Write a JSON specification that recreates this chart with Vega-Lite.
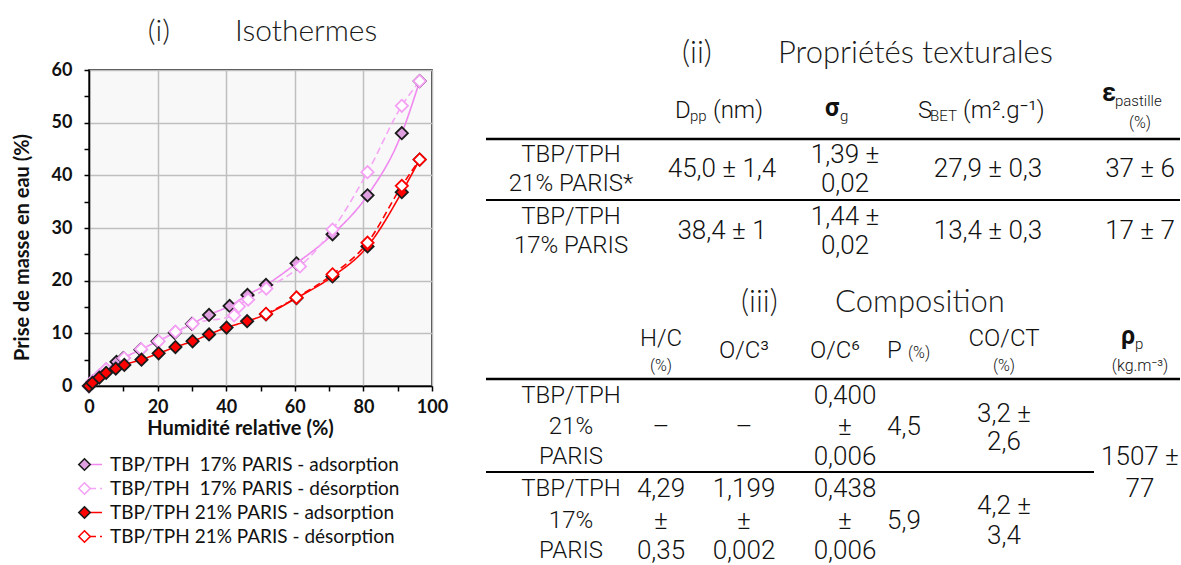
{
  "$schema": "https://vega.github.io/schema/vega-lite/v6.json",
  "background": "white",
  "padding": {"left": 11, "top": 16, "right": 0, "bottom": 0},
  "spacing": 20,
  "datasets": {
    "iso": [
      {"series": "TBP/TPH  17% PARIS - adsorption", "hr": 0, "m": 0},
      {"series": "TBP/TPH  17% PARIS - adsorption", "hr": 1, "m": 0.8},
      {"series": "TBP/TPH  17% PARIS - adsorption", "hr": 3, "m": 1.9},
      {"series": "TBP/TPH  17% PARIS - adsorption", "hr": 5, "m": 3.1},
      {"series": "TBP/TPH  17% PARIS - adsorption", "hr": 8, "m": 4.6},
      {"series": "TBP/TPH  17% PARIS - adsorption", "hr": 10, "m": 5.3},
      {"series": "TBP/TPH  17% PARIS - adsorption", "hr": 15, "m": 6.9},
      {"series": "TBP/TPH  17% PARIS - adsorption", "hr": 20, "m": 8.5},
      {"series": "TBP/TPH  17% PARIS - adsorption", "hr": 25, "m": 10.1},
      {"series": "TBP/TPH  17% PARIS - adsorption", "hr": 30, "m": 11.8},
      {"series": "TBP/TPH  17% PARIS - adsorption", "hr": 35, "m": 13.5},
      {"series": "TBP/TPH  17% PARIS - adsorption", "hr": 41, "m": 15.2},
      {"series": "TBP/TPH  17% PARIS - adsorption", "hr": 46.2, "m": 17.3},
      {"series": "TBP/TPH  17% PARIS - adsorption", "hr": 51.6, "m": 19.2},
      {"series": "TBP/TPH  17% PARIS - adsorption", "hr": 60.5, "m": 23.3},
      {"series": "TBP/TPH  17% PARIS - adsorption", "hr": 71, "m": 28.8},
      {"series": "TBP/TPH  17% PARIS - adsorption", "hr": 81.2, "m": 36.2},
      {"series": "TBP/TPH  17% PARIS - adsorption", "hr": 91.2, "m": 48},
      {"series": "TBP/TPH  17% PARIS - adsorption", "hr": 96.4, "m": 57.9},
      {"series": "TBP/TPH  17% PARIS - désorption", "hr": 96.4, "m": 57.9},
      {"series": "TBP/TPH  17% PARIS - désorption", "hr": 91.2, "m": 53.2},
      {"series": "TBP/TPH  17% PARIS - désorption", "hr": 81.2, "m": 40.6},
      {"series": "TBP/TPH  17% PARIS - désorption", "hr": 71, "m": 29.7},
      {"series": "TBP/TPH  17% PARIS - désorption", "hr": 61.5, "m": 22.7},
      {"series": "TBP/TPH  17% PARIS - désorption", "hr": 51.7, "m": 18.5},
      {"series": "TBP/TPH  17% PARIS - désorption", "hr": 46.4, "m": 16.4},
      {"series": "TBP/TPH  17% PARIS - désorption", "hr": 43.7, "m": 15.1},
      {"series": "TBP/TPH  17% PARIS - désorption", "hr": 42.3, "m": 13.4},
      {"series": "TBP/TPH  17% PARIS - désorption", "hr": 30.2, "m": 11.8},
      {"series": "TBP/TPH  17% PARIS - désorption", "hr": 25.2, "m": 10.3},
      {"series": "TBP/TPH  17% PARIS - désorption", "hr": 20.3, "m": 8.5},
      {"series": "TBP/TPH  17% PARIS - désorption", "hr": 15.2, "m": 7},
      {"series": "TBP/TPH  17% PARIS - désorption", "hr": 10.2, "m": 5.3},
      {"series": "TBP/TPH  17% PARIS - désorption", "hr": 5, "m": 3.2},
      {"series": "TBP/TPH  17% PARIS - désorption", "hr": 3, "m": 2},
      {"series": "TBP/TPH  17% PARIS - désorption", "hr": 1, "m": 0.9},
      {"series": "TBP/TPH  17% PARIS - désorption", "hr": 0, "m": 0},
      {"series": "TBP/TPH 21% PARIS - adsorption", "hr": 0, "m": 0},
      {"series": "TBP/TPH 21% PARIS - adsorption", "hr": 1, "m": 0.6},
      {"series": "TBP/TPH 21% PARIS - adsorption", "hr": 3, "m": 1.6},
      {"series": "TBP/TPH 21% PARIS - adsorption", "hr": 5, "m": 2.5},
      {"series": "TBP/TPH 21% PARIS - adsorption", "hr": 7.8, "m": 3.3},
      {"series": "TBP/TPH 21% PARIS - adsorption", "hr": 10.3, "m": 4},
      {"series": "TBP/TPH 21% PARIS - adsorption", "hr": 15.3, "m": 5},
      {"series": "TBP/TPH 21% PARIS - adsorption", "hr": 20.3, "m": 6.2},
      {"series": "TBP/TPH 21% PARIS - adsorption", "hr": 25.2, "m": 7.4},
      {"series": "TBP/TPH 21% PARIS - adsorption", "hr": 30.2, "m": 8.5},
      {"series": "TBP/TPH 21% PARIS - adsorption", "hr": 35, "m": 9.8},
      {"series": "TBP/TPH 21% PARIS - adsorption", "hr": 40.1, "m": 11.1},
      {"series": "TBP/TPH 21% PARIS - adsorption", "hr": 46.1, "m": 12.3},
      {"series": "TBP/TPH 21% PARIS - adsorption", "hr": 51.6, "m": 13.6},
      {"series": "TBP/TPH 21% PARIS - adsorption", "hr": 60.5, "m": 16.7},
      {"series": "TBP/TPH 21% PARIS - adsorption", "hr": 71, "m": 20.8},
      {"series": "TBP/TPH 21% PARIS - adsorption", "hr": 81.2, "m": 26.5},
      {"series": "TBP/TPH 21% PARIS - adsorption", "hr": 91.2, "m": 36.8},
      {"series": "TBP/TPH 21% PARIS - adsorption", "hr": 96.4, "m": 43},
      {"series": "TBP/TPH 21% PARIS - désorption", "hr": 96.4, "m": 43},
      {"series": "TBP/TPH 21% PARIS - désorption", "hr": 91.2, "m": 38},
      {"series": "TBP/TPH 21% PARIS - désorption", "hr": 81.2, "m": 27.2},
      {"series": "TBP/TPH 21% PARIS - désorption", "hr": 71, "m": 21.2},
      {"series": "TBP/TPH 21% PARIS - désorption", "hr": 60.5, "m": 16.8},
      {"series": "TBP/TPH 21% PARIS - désorption", "hr": 51.6, "m": 13.7}
    ],
    "cells": [
      {"k": "title", "c": 4, "l": 0, "t": "(ii)"},
      {"k": "title", "c": 10, "l": 0, "t": "Propriétés texturales"},
      {"k": "hdrL", "c": 3, "l": 2, "t": "D"},
      {"k": "sub", "c": 5, "l": 2, "t": "pp"},
      {"k": "hdrL", "c": 6, "l": 2, "t": "(nm)"},
      {"k": "greek", "c": 11, "l": 2, "t": "σ"},
      {"k": "sub", "c": 13, "l": 2, "t": "g"},
      {"k": "hdrL", "c": 17, "l": 2, "t": "S"},
      {"k": "sub", "c": 18, "l": 2, "t": "BET"},
      {"k": "hdrL", "c": 19, "l": 2, "t": "(m².g⁻¹)"},
      {"k": "greek", "c": 23, "l": 1, "t": "ε"},
      {"k": "sub", "c": 24, "l": 1, "t": "pastille"},
      {"k": "small", "c": 27, "l": 3, "t": "(%)"},
      {"k": "rule", "c": 0, "c2": 28, "l": 4},
      {"k": "main", "c": 1, "l": 5, "t": "TBP/TPH"},
      {"k": "main", "c": 1, "l": 7, "t": "21% PARIS*"},
      {"k": "val", "c": 7, "l": 6, "t": "45,0 ± 1,4"},
      {"k": "val", "c": 14, "l": 5, "t": "1,39 ±"},
      {"k": "val", "c": 14, "l": 7, "t": "0,02"},
      {"k": "val", "c": 20, "l": 6, "t": "27,9 ± 0,3"},
      {"k": "val", "c": 27, "l": 6, "t": "37 ± 6"},
      {"k": "rule2", "c": 0, "c2": 28, "l": 8},
      {"k": "main", "c": 1, "l": 9, "t": "TBP/TPH"},
      {"k": "main", "c": 1, "l": 11, "t": "17% PARIS"},
      {"k": "val", "c": 7, "l": 10, "t": "38,4 ± 1"},
      {"k": "val", "c": 14, "l": 9, "t": "1,44 ±"},
      {"k": "val", "c": 14, "l": 11, "t": "0,02"},
      {"k": "val", "c": 20, "l": 10, "t": "13,4 ± 0,3"},
      {"k": "val", "c": 27, "l": 10, "t": "17 ± 7"},
      {"k": "title", "c": 8, "l": 12, "t": "(iii)"},
      {"k": "title", "c": 12, "l": 12, "t": "Composition"},
      {"k": "main", "c": 2, "l": 13, "t": "H/C"},
      {"k": "small", "c": 2, "l": 15, "t": "(%)"},
      {"k": "main", "c": 9, "l": 14, "t": "O/C³"},
      {"k": "main", "c": 12, "l": 14, "t": "O/C⁶"},
      {"k": "hdrL", "c": 15, "l": 14, "t": "P"},
      {"k": "smallL", "c": 16, "l": 14, "t": "(%)"},
      {"k": "main", "c": 21, "l": 13, "t": "CO/CT"},
      {"k": "small", "c": 21, "l": 15, "t": "(%)"},
      {"k": "greek", "c": 25, "l": 13, "t": "ρ"},
      {"k": "sub", "c": 26, "l": 13, "t": "p"},
      {"k": "small", "c": 27, "l": 15, "t": "(kg.m⁻³)"},
      {"k": "rule", "c": 0, "c2": 28, "l": 16},
      {"k": "main", "c": 1, "l": 17, "t": "TBP/TPH"},
      {"k": "main", "c": 1, "l": 19, "t": "21%"},
      {"k": "main", "c": 1, "l": 21, "t": "PARIS"},
      {"k": "val", "c": 2, "l": 19, "t": "–"},
      {"k": "val", "c": 9, "l": 19, "t": "–"},
      {"k": "val", "c": 14, "l": 17, "t": "0,400"},
      {"k": "val", "c": 14, "l": 19, "t": "±"},
      {"k": "val", "c": 14, "l": 21, "t": "0,006"},
      {"k": "val", "c": 16, "l": 19, "t": "4,5"},
      {"k": "val", "c": 21, "l": 18, "t": "3,2 ±"},
      {"k": "val", "c": 21, "l": 20, "t": "2,6"},
      {"k": "val", "c": 27, "l": 21, "t": "1507 ±"},
      {"k": "val", "c": 27, "l": 23, "t": "77"},
      {"k": "rule2", "c": 0, "c2": 22, "l": 22},
      {"k": "main", "c": 1, "l": 23, "t": "TBP/TPH"},
      {"k": "main", "c": 1, "l": 25, "t": "17%"},
      {"k": "main", "c": 1, "l": 27, "t": "PARIS"},
      {"k": "val", "c": 2, "l": 23, "t": "4,29"},
      {"k": "val", "c": 2, "l": 25, "t": "±"},
      {"k": "val", "c": 2, "l": 27, "t": "0,35"},
      {"k": "val", "c": 9, "l": 23, "t": "1,199"},
      {"k": "val", "c": 9, "l": 25, "t": "±"},
      {"k": "val", "c": 9, "l": 27, "t": "0,002"},
      {"k": "val", "c": 14, "l": 23, "t": "0,438"},
      {"k": "val", "c": 14, "l": 25, "t": "±"},
      {"k": "val", "c": 14, "l": 27, "t": "0,006"},
      {"k": "val", "c": 16, "l": 25, "t": "5,9"},
      {"k": "val", "c": 21, "l": 24, "t": "4,2 ±"},
      {"k": "val", "c": 21, "l": 26, "t": "3,4"}
    ]
  },
  "hconcat": [
    {
      "width": 343,
      "height": 316,
      "title": {"text": "(i)\u00a0\u00a0\u00a0\u00a0\u00a0\u00a0\u00a0\u00a0Isothermes", "font": "Lato", "fontWeight": 300, "fontSize": 30, "color": "#1a1a1a", "anchor": "middle", "offset": 14, "dx": 2},
      "view": {"fill": "#F8F8F8", "stroke": "#000000", "strokeWidth": 1.5},
      "data": {"name": "iso"},
      "encoding": {
        "x": {
          "field": "hr", "type": "quantitative",
          "scale": {"domain": [0, 100], "nice": false, "zero": false},
          "axis": {
            "title": "Humidité relative (%)",
            "values": [0, 10, 20, 30, 40, 50, 60, 70, 80, 90, 100],
            "labelExpr": "datum.value % 20 === 0 ? datum.label : ''",
            "grid": true, "gridColor": "#BFBFBF", "gridWidth": 1.5,
            "gridOpacity": {"condition": {"test": "datum.value % 20 === 0", "value": 1}, "value": 0},
            "domainColor": "#000000", "domainWidth": 1.5,
            "tickColor": "#000000", "tickWidth": 1.5, "tickSize": 5,
            "labelFont": "Lato", "labelFontWeight": "bold", "labelFontSize": 18, "labelColor": "#111111",
            "labelPadding": 7, "labelFlush": false, "labelOverlap": false,
            "titleFont": "Lato", "titleFontWeight": "bold", "titleFontSize": 20, "titleColor": "#111111",
            "titlePadding": 2, "titleX": 151
          }
        },
        "y": {
          "field": "m", "type": "quantitative",
          "scale": {"domain": [0, 60], "nice": false, "zero": false},
          "axis": {
            "title": "Prise de masse en eau (%)",
            "values": [0, 5, 10, 15, 20, 25, 30, 35, 40, 45, 50, 55, 60],
            "labelExpr": "datum.value % 10 === 0 ? datum.label : ''",
            "grid": true, "gridColor": "#BFBFBF", "gridWidth": 1.5,
            "gridOpacity": {"condition": {"test": "datum.value % 10 === 0", "value": 1}, "value": 0},
            "domainColor": "#000000", "domainWidth": 1.5,
            "tickColor": "#000000", "tickWidth": 1.5, "tickSize": 5,
            "labelFont": "Lato", "labelFontWeight": "bold", "labelFontSize": 18, "labelColor": "#111111",
            "labelPadding": 12, "labelFlush": false, "labelOverlap": false,
            "titleFont": "Lato", "titleFontWeight": "bold", "titleFontSize": 20, "titleColor": "#111111",
            "titlePadding": 19, "titleY": 177
          }
        }
      },
      "layer": [
        {
          "mark": {"type": "line", "interpolate": "monotone", "strokeWidth": 1.6},
          "encoding": {
            "stroke": {
              "field": "series", "type": "nominal",
              "scale": {"domain": ["TBP/TPH  17% PARIS - adsorption", "TBP/TPH  17% PARIS - désorption", "TBP/TPH 21% PARIS - adsorption", "TBP/TPH 21% PARIS - désorption"], "range": ["#F088F0", "#F5A5F5", "#FF0000", "#FF0000"]},
              "legend": {"orient": "none", "legendX": -3, "legendY": 385, "title": null, "symbolType": "stroke", "symbolSize": 169, "symbolStrokeWidth": 1.6, "labelFont": "Lato", "labelFontSize": 19, "labelOpacity": 0, "labelExpr": "'\u00a0'", "labelOffset": -12, "labelLimit": 500, "rowPadding": 4, "padding": 0}
            },
            "strokeDash": {
              "field": "series", "type": "nominal",
              "scale": {"domain": ["TBP/TPH  17% PARIS - adsorption", "TBP/TPH  17% PARIS - désorption", "TBP/TPH 21% PARIS - adsorption", "TBP/TPH 21% PARIS - désorption"], "range": [[1, 0], [7, 4], [1, 0], [7, 4]]},
              "legend": {"orient": "none", "legendX": -3, "legendY": 385, "title": null, "symbolType": "stroke", "symbolSize": 169, "symbolStrokeWidth": 1.6, "labelFont": "Lato", "labelFontSize": 19, "labelOpacity": 0, "labelExpr": "'\u00a0'", "labelOffset": -12, "labelLimit": 500, "rowPadding": 4, "padding": 0}
            }
          }
        },
        {
          "mark": {"type": "point", "shape": "diamond", "filled": true, "size": 150, "strokeWidth": 1.8, "opacity": 1},
          "encoding": {
            "fill": {
              "field": "series", "type": "nominal",
              "scale": {"range": ["#DFA0E0", "#FFFFFF", "#FF0000", "#FFFFFF"]},
              "legend": {"orient": "none", "legendX": -14, "legendY": 385, "title": null, "symbolType": "diamond", "symbolSize": 130, "symbolStrokeWidth": 1.6, "symbolOpacity": 1, "labelFont": "Lato", "labelFontSize": 19, "labelColor": "#111111", "labelLimit": 500, "labelOffset": 16, "rowPadding": 4, "padding": 0, "labelExpr": "replace(datum.label, 'TPH  1', 'TPH\u00a0 1')"}
            },
            "stroke": {
              "field": "series", "type": "nominal",
              "scale": {"range": ["#1A1A1A", "#F5A0F5", "#1A1A1A", "#FF0000"]},
              "legend": {"orient": "none", "legendX": -14, "legendY": 385, "title": null, "symbolType": "diamond", "symbolSize": 130, "symbolStrokeWidth": 1.6, "symbolOpacity": 1, "labelFont": "Lato", "labelFontSize": 19, "labelColor": "#111111", "labelLimit": 500, "labelOffset": 16, "rowPadding": 4, "padding": 0, "labelExpr": "replace(datum.label, 'TPH  1', 'TPH\u00a0 1')"}
            }
          }
        }
      ],
      "resolve": {
        "scale": {"stroke": "independent", "fill": "independent", "strokeDash": "independent"},
        "legend": {"stroke": "independent", "fill": "independent", "strokeDash": "independent"}
      }
    },
    {
      "width": 711,
      "height": 316,
      "view": {"stroke": null},
      "data": {"name": "cells"},
      "encoding": {
        "x": {
          "field": "c", "type": "quantitative", "axis": null,
          "scale": {"nice": false, "zero": false,
            "domain": [0, 1, 2, 3, 4, 5, 6, 7, 8, 9, 10, 11, 12, 13, 14, 15, 16, 17, 18, 19, 20, 21, 22, 23, 24, 25, 26, 27, 28],
            "range": [17, 102, 192, 206, 213, 221, 244, 253, 272, 275, 309, 356, 366, 371, 376, 418, 435, 449, 461, 494, 519, 535, 625, 633, 646, 652, 666, 671, 711]}
        },
        "y": {
          "field": "l", "type": "quantitative", "axis": null,
          "scale": {"nice": false, "zero": false,
            "domain": [0, 1, 2, 3, 4, 5, 6, 7, 8, 9, 10, 11, 12, 13, 14, 15, 16, 17, 18, 19, 20, 21, 22, 23, 24, 25, 26, 27],
            "range": [-16, 26, 41, 53, 69, 85, 99, 114, 130, 147, 161, 176, 233, 269, 281, 296, 309, 326, 344, 357, 372, 387, 402, 419, 436, 451, 466, 481]}
        }
      },
      "layer": [
        {"transform": [{"filter": "datum.k === 'rule'"}], "mark": {"type": "rule", "color": "#000000", "strokeWidth": 2.6}, "encoding": {"x2": {"field": "c2"}}},
        {"transform": [{"filter": "datum.k === 'rule2'"}], "mark": {"type": "rule", "color": "#000000", "strokeWidth": 1.8}, "encoding": {"x2": {"field": "c2"}}},
        {"transform": [{"filter": "datum.k === 'title'"}], "mark": {"type": "text", "font": "Lato", "fontWeight": 300, "fontSize": 31, "align": "left", "baseline": "middle", "color": "#1a1a1a"}, "encoding": {"text": {"field": "t", "type": "nominal"}}},
        {"transform": [{"filter": "datum.k === 'main'"}], "mark": {"type": "text", "font": "Roboto", "fontWeight": 300, "fontSize": 24, "align": "center", "baseline": "middle", "color": "#111111"}, "encoding": {"text": {"field": "t", "type": "nominal"}}},
        {"transform": [{"filter": "datum.k === 'val'"}], "mark": {"type": "text", "font": "Roboto", "fontWeight": 300, "fontSize": 26, "align": "center", "baseline": "middle", "color": "#111111"}, "encoding": {"text": {"field": "t", "type": "nominal"}}},
        {"transform": [{"filter": "datum.k === 'hdrL'"}], "mark": {"type": "text", "font": "Roboto", "fontWeight": 300, "fontSize": 24, "align": "left", "baseline": "middle", "color": "#111111"}, "encoding": {"text": {"field": "t", "type": "nominal"}}},
        {"transform": [{"filter": "datum.k === 'greek'"}], "mark": {"type": "text", "font": "Roboto", "fontWeight": "bold", "fontSize": 25, "align": "left", "baseline": "middle", "dy": -3, "color": "#111111"}, "encoding": {"text": {"field": "t", "type": "nominal"}}},
        {"transform": [{"filter": "datum.k === 'sub'"}], "mark": {"type": "text", "font": "Roboto", "fontWeight": 300, "fontSize": 15, "align": "left", "baseline": "middle", "dy": 5, "color": "#111111"}, "encoding": {"text": {"field": "t", "type": "nominal"}}},
        {"transform": [{"filter": "datum.k === 'small'"}], "mark": {"type": "text", "font": "Roboto", "fontWeight": 300, "fontSize": 16, "align": "center", "baseline": "middle", "color": "#111111"}, "encoding": {"text": {"field": "t", "type": "nominal"}}},
        {"transform": [{"filter": "datum.k === 'smallL'"}], "mark": {"type": "text", "font": "Roboto", "fontWeight": 300, "fontSize": 16, "align": "left", "baseline": "middle", "dx": 4, "dy": 2, "color": "#111111"}, "encoding": {"text": {"field": "t", "type": "nominal"}}}
      ]
    }
  ]
}
